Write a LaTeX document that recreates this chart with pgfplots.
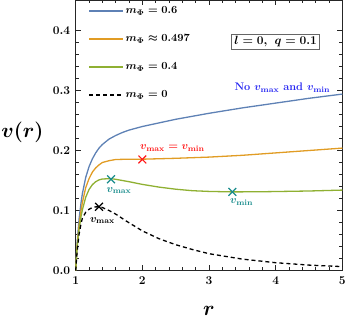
\documentclass[border=0pt]{standalone}
\usepackage{pgfplots}
\pgfplotsset{compat=1.18}

\definecolor{mblue}{rgb}{0.368,0.507,0.710}
\definecolor{morange}{rgb}{0.881,0.611,0.142}
\definecolor{mgreen}{rgb}{0.560,0.692,0.195}
\definecolor{mteal}{rgb}{0.10,0.55,0.55}
\definecolor{mred}{rgb}{1,0.1,0.1}
\definecolor{mtxtblue}{rgb}{0.15,0.15,0.95}

% v(r) for the four values of m_Phi
\pgfplotstableread{
r v
1.00 0
1.02 0.045
1.05 0.085
1.08 0.113
1.10 0.128
1.15 0.155
1.20 0.173
1.25 0.186
1.30 0.196
1.35 0.204
1.40 0.210
1.50 0.219
1.60 0.225
1.70 0.230
1.80 0.234
2.00 0.240
2.25 0.246
2.50 0.252
3.00 0.262
3.50 0.271
4.00 0.279
4.50 0.287
5.00 0.294
}\mblue

\pgfplotstableread{
r v
1.00 0
1.02 0.040
1.05 0.075
1.08 0.100
1.10 0.113
1.15 0.138
1.20 0.153
1.25 0.164
1.30 0.171
1.35 0.176
1.40 0.180
1.50 0.183
1.60 0.185
1.80 0.1855
2.00 0.1855
2.50 0.187
3.00 0.189
3.50 0.192
4.00 0.196
4.50 0.200
5.00 0.204
}\morange

\pgfplotstableread{
r v
1.00 0
1.02 0.037
1.05 0.068
1.08 0.090
1.10 0.101
1.15 0.122
1.20 0.135
1.25 0.143
1.30 0.148
1.35 0.151
1.40 0.1525
1.50 0.153
1.55 0.1528
1.60 0.152
1.80 0.148
2.00 0.1435
2.25 0.139
2.50 0.1355
2.75 0.133
3.00 0.1318
3.35 0.131
3.75 0.1312
4.00 0.1316
4.50 0.1325
5.00 0.134
}\mgreen

\pgfplotstableread{
r v
1.00 0
1.02 0.030
1.05 0.060
1.08 0.078
1.10 0.087
1.15 0.097
1.20 0.102
1.25 0.105
1.30 0.106
1.35 0.1062
1.40 0.105
1.50 0.100
1.60 0.094
1.75 0.083
2.00 0.066
2.25 0.053
2.50 0.043
2.75 0.035
3.00 0.028
3.50 0.019
4.00 0.013
4.50 0.009
5.00 0.0065
}\mblack

\begin{document}
\boldmath\bfseries
\begin{tikzpicture}
\begin{axis}[
    scale only axis,
    width=266.6bp, height=270bp,
    xmin=1, xmax=5, ymin=0, ymax=0.45,
    xtick={1,2,3,4,5},
    ytick={0,0.1,0.2,0.3,0.4},
    minor x tick num=4, minor y tick num=4,
    major tick length=5bp, minor tick length=3bp,
    axis line style={black!85, line width=0.9bp},
    every tick/.style={black!85, line width=0.7bp},
    /pgf/number format/fixed,
    yticklabel style={/pgf/number format/fixed zerofill, /pgf/number format/precision=1},
    tick label style={font=\fontsize{12.5}{14}\selectfont\boldmath},
    xticklabel style={yshift=-3bp},
    yticklabel style={xshift=-2bp},
    xlabel={$r$},
    ylabel={$v(r)$},
    label style={font=\fontsize{19.5}{22}\selectfont\boldmath},
    xlabel style={at={(axis description cs:0.5,-0.148)}, anchor=center},
    ylabel style={rotate=-90, at={(axis description cs:-0.2,0.51)}, anchor=center},
    legend style={draw=none, fill=none, at={(axis description cs:0.047,0.985)},
        anchor=north west, font=\fontsize{11}{13}\selectfont\boldmath,
        row sep=15.5bp, inner sep=0pt},
    legend cell align=left,
    legend image code/.code={\draw[#1] (0bp,0bp) -- (34bp,0bp);},
    clip=false,
]
\addplot[mblue, line width=1.3bp] table {\mblue};
\addlegendentry{$m_{\Phi}=0.6$}
\addplot[morange, line width=1.3bp] table {\morange};
\addlegendentry{$m_{\Phi}\approx 0.497$}
\addplot[mgreen, line width=1.3bp] table {\mgreen};
\addlegendentry{$m_{\Phi}=0.4$}
\addplot[black, line width=1.3bp, dash pattern=on 4bp off 3bp] table {\mblack};
\addlegendentry{$m_{\Phi}=0$}

\addplot[only marks, mark=x, mark size=5.5bp, mred, line width=1.2bp, forget plot]
    coordinates {(2.0,0.185)};
\addplot[only marks, mark=x, mark size=5.5bp, mteal, line width=1.2bp, forget plot]
    coordinates {(1.53,0.152)(3.35,0.131)};
\addplot[only marks, mark=x, mark size=5.5bp, black, line width=1.2bp, forget plot]
    coordinates {(1.35,0.1062)};

\node[draw=black!60, line width=1bp, inner sep=2.5bp, fill=white,
      font=\fontsize{13}{15}\selectfont\boldmath] at (axis cs:4.0,0.381) {$l=0,\ q=0.1$};
\node[mtxtblue, font=\fontsize{11}{13}\selectfont\boldmath] at (axis cs:4.1,0.305)
    {No $v_{\mathrm{max}}$ and $v_{\mathrm{min}}$};
\node[mred, font=\fontsize{11}{13}\selectfont\boldmath] at (axis cs:2.45,0.204)
    {$v_{\mathrm{max}}=v_{\mathrm{min}}$};
\node[mteal, font=\fontsize{11}{13}\selectfont\boldmath] at (axis cs:1.65,0.133)
    {$v_{\mathrm{max}}$};
\node[mteal, font=\fontsize{11}{13}\selectfont\boldmath] at (axis cs:3.49,0.114)
    {$v_{\mathrm{min}}$};
\node[black, font=\fontsize{11}{13}\selectfont\boldmath] at (axis cs:1.40,0.083)
    {$v_{\mathrm{max}}$};
\end{axis}
\pgfresetboundingbox
\path[use as bounding box] ([shift={(-75.7bp,-55.5bp)}]current axis.south west)
    rectangle ([shift={(4.7bp,0.5bp)}]current axis.north east);
\end{tikzpicture}
\end{document}
